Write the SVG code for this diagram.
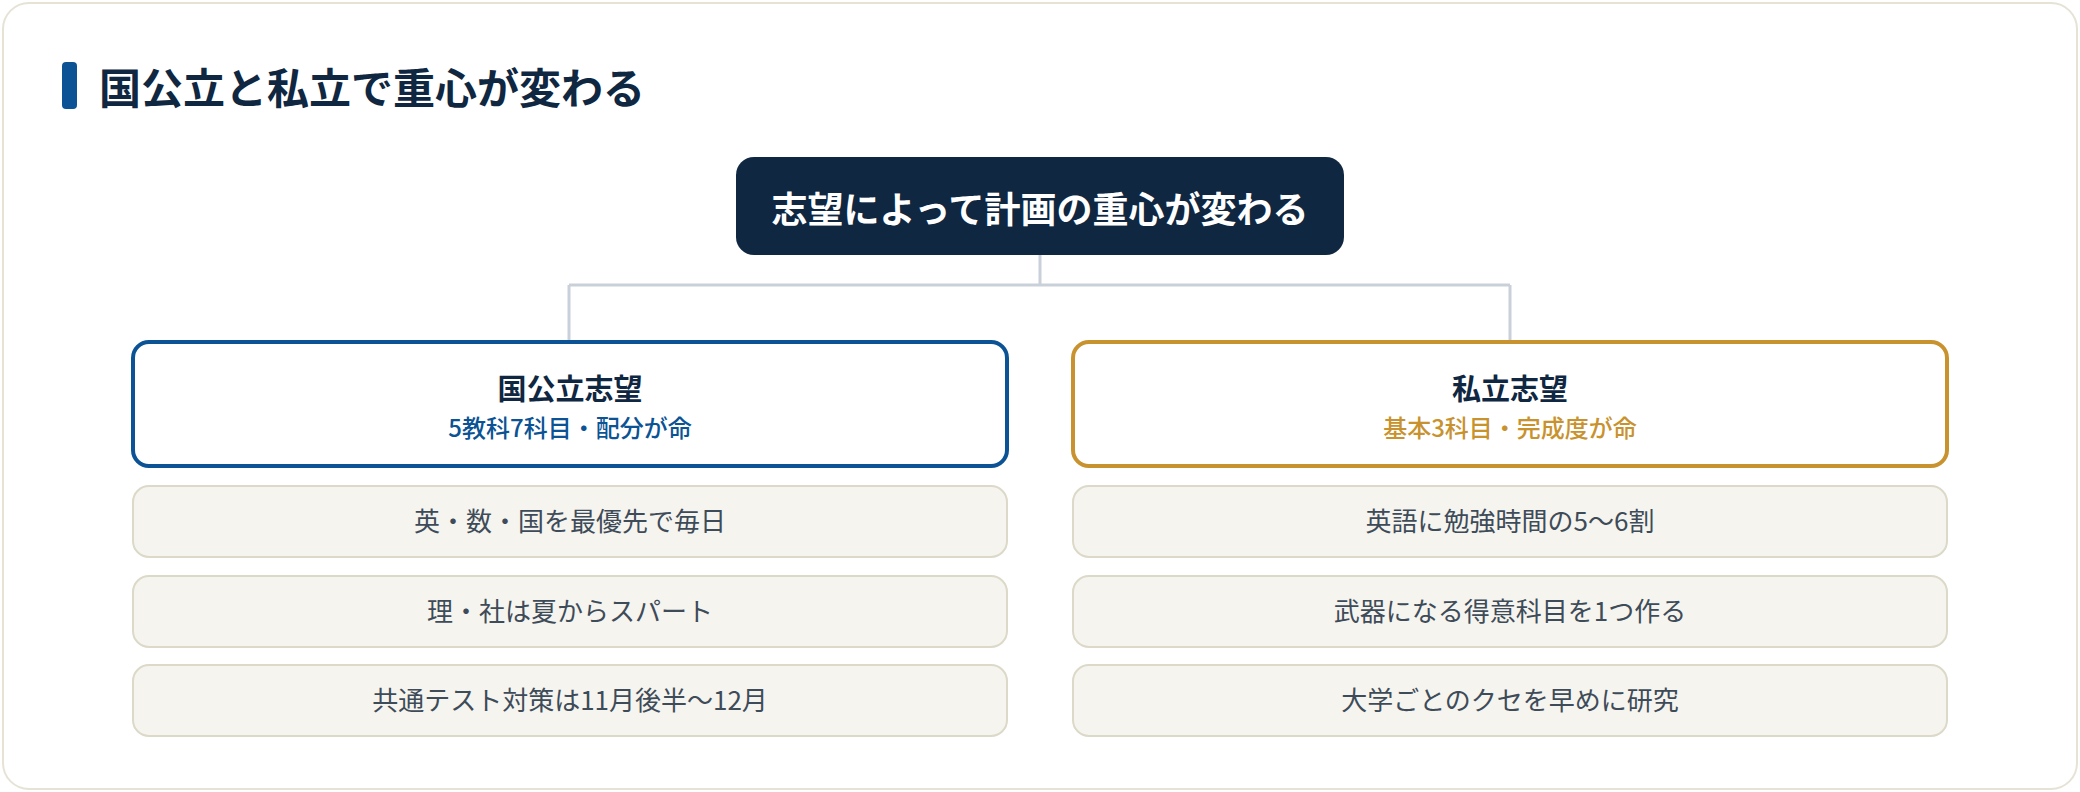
<svg xmlns="http://www.w3.org/2000/svg" width="2080" height="792" viewBox="0 0 2080 792">
<style>
text{font-family:"Noto Sans CJK JP","Noto Sans",sans-serif;text-anchor:middle}
.item rect{fill:#f5f4ef;stroke:#dcd9c8;stroke-width:2}
.item text{font-size:26px;fill:#3e4b58;font-weight:400}
.cat-t{font-size:29px;font-weight:700;fill:#0f2741}
.cat-s{font-size:24px;font-weight:500}
.conn{fill:none;stroke:#c9d0da;stroke-width:3}
</style>
<rect x="0" y="0" width="2080" height="792" fill="#ffffff"/>
<rect x="3" y="3" width="2074" height="786" rx="26" fill="#ffffff" stroke="#e6e3d6" stroke-width="2"/>
<g id="title">
<rect x="62" y="62" width="15" height="47" rx="4" fill="#0b5394"/>
<text x="99" y="104" style="text-anchor:start;font-size:42px;font-weight:700;fill:#0f2741">国公立と私立で重心が変わる</text>
</g>
<g id="connectors">
<path class="conn" d="M1040 255 V285 M569 285 H1510 M569 285 V341 M1510 285 V341"/>
</g>
<g id="root">
<rect x="736" y="157" width="608" height="98" rx="18" fill="#0f2741"/>
<text x="1040" y="223" style="font-size:36px;font-weight:700;fill:#ffffff">志望によって計画の重心が変わる</text>
</g>
<g id="national">
<rect x="133" y="342" width="874" height="124" rx="16" fill="#ffffff" stroke="#0b5394" stroke-width="4"/>
<text class="cat-t" x="570" y="400">国公立志望</text>
<text class="cat-s" x="570" y="437" fill="#0b5394">5教科7科目・配分が命</text>
</g>
<g id="private">
<rect x="1073" y="342" width="874" height="124" rx="16" fill="#ffffff" stroke="#c8922e" stroke-width="4"/>
<text class="cat-t" x="1510" y="400">私立志望</text>
<text class="cat-s" x="1510" y="437" fill="#c8922e">基本3科目・完成度が命</text>
</g>
<g id="n-item1" class="item"><rect x="133" y="486" width="874" height="71" rx="16"/><text x="570" y="531">英・数・国を最優先で毎日</text></g>
<g id="n-item2" class="item"><rect x="133" y="576" width="874" height="71" rx="16"/><text x="570" y="621">理・社は夏からスパート</text></g>
<g id="n-item3" class="item"><rect x="133" y="665" width="874" height="71" rx="16"/><text x="570" y="710">共通テスト対策は11月後半〜12月</text></g>
<g id="p-item1" class="item"><rect x="1073" y="486" width="874" height="71" rx="16"/><text x="1510" y="531">英語に勉強時間の5〜6割</text></g>
<g id="p-item2" class="item"><rect x="1073" y="576" width="874" height="71" rx="16"/><text x="1510" y="621">武器になる得意科目を1つ作る</text></g>
<g id="p-item3" class="item"><rect x="1073" y="665" width="874" height="71" rx="16"/><text x="1510" y="710">大学ごとのクセを早めに研究</text></g>
</svg>
